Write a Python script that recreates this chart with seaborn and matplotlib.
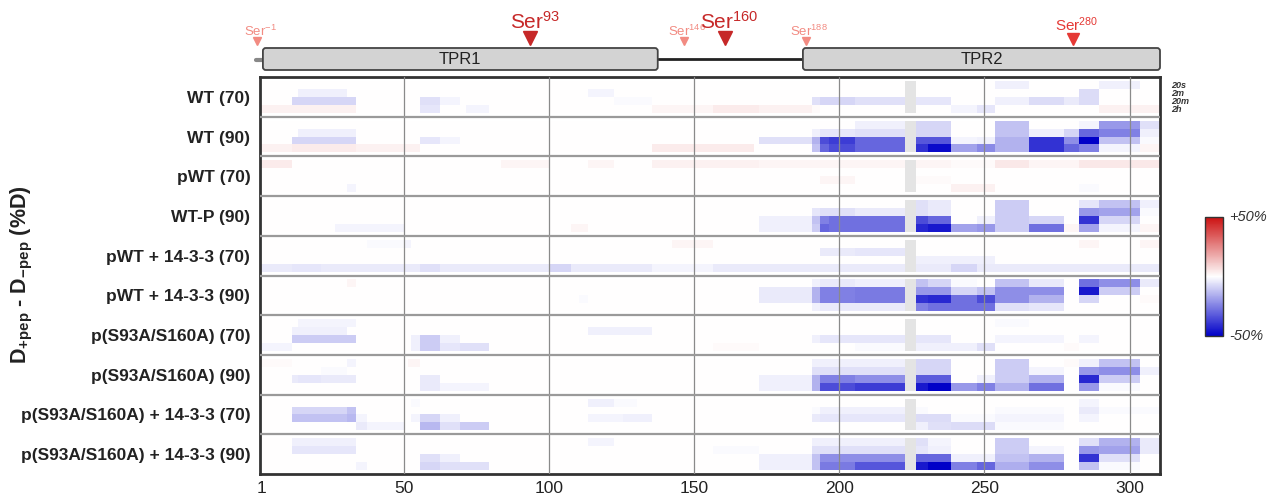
import numpy as np
import matplotlib.pyplot as plt
import seaborn as sns
from matplotlib.colors import LinearSegmentedColormap, ListedColormap
from matplotlib.patches import FancyBboxPatch

# conditions (rows) and labelling time points (sub rows)
conditions = ['WT (70)', 'WT (90)', 'pWT (70)', 'WT-P (90)', 'pWT + 14-3-3 (70)',
              'pWT + 14-3-3 (90)', 'p(S93A/S160A) (70)', 'p(S93A/S160A) (90)',
              'p(S93A/S160A) + 14-3-3 (70)', 'p(S93A/S160A) + 14-3-3 (90)']
time_points = ['20s', '2m', '20m', '2h']
n_res = 310
res_ticks = [1, 50, 100, 150, 200, 250, 300]

# domains and serines
domains = ['TPR1', 'TPR2']
dom_start = [1, 187]
dom_end = [137, 310]
ser_pos = [-1, 93, 146, 160, 188, 280]
ser_lbl = ['-1', '93', '146', '160', '188', '280']
ser_kind = ['small', 'big', 'small', 'big', 'small', 'mid']

# no-coverage region
gap = (222, 226)

# C-terminal peptide segments (common to all conditions)
seg_start = [172, 190, 193, 196, 205, 226, 230, 238, 247, 253, 265, 277, 282, 289, 303]
seg_end = [190, 193, 196, 205, 222, 230, 238, 247, 253, 265, 277, 282, 289, 303, 310]

# %D difference per time point (rows 20s, 2m, 20m, 2h) for each segment
wt70_c = [[0, 0, 0, 0, 0, 0, 0, 0, 0, -3, 0, 0, 0, -3, 0],
          [0, 0, 0, 0, 0, 0, 0, 0, 0, 0, 0, 0, -7, 0, 0],
          [0, -6, -8, -8, -6, -5, -5, 0, 0, -3, -7, -4, -7, 0, 0],
          [3, 1, 0, 0, 0, 0, 0, -2, -5, 0, 0, 0, 0, 3, 3]]
wt90_c = [[0, 0, 0, 0, -3, -8, -8, 0, 0, -12, 0, 0, -2, -20, -6],
          [0, -3, -5, -5, -6, -8, -8, 0, 0, -12, -3, -8, -30, -25, -3],
          [-6, -15, -35, -38, -30, -33, -33, -2, -3, -15, -40, -22, -50, -12, -1],
          [0, -12, -30, -35, -30, -40, -48, -18, -23, -15, -40, -30, -25, -2, 2]]
pwt70_c = [[2, 2, 2, 2, 2, 2, 2, 1, 1, 5, 2, 2, 5, 5, 5],
           [0, 0, 0, 0, 0, 0, 0, 0, 0, 0, 0, 0, 0, 0, 0],
           [0, 0, 2, 2, 0, 1, 1, 0, 0, 0, 0, 0, 0, 0, 0],
           [0, 0, 0, 0, 0, 0, 0, 3, 3, 0, 0, 0, -1, 0, 0]]
wtp90_c = [[0, 0, 0, 0, 0, -6, -4, 0, 0, -10, 0, 0, -5, -12, -3],
           [0, -5, -6, -6, -4, -6, -4, 0, 0, -10, 0, 0, -20, -18, -1],
           [-3, -12, -25, -28, -28, -35, -30, 0, -3, -10, -8, 0, -40, -8, 0],
           [-3, -10, -30, -28, -28, -42, -45, -18, -20, -10, -28, 2, -18, -2, 2]]
pwt1433_70_c = [[0, 0, 0, 0, 0, 0, 0, 0, 0, 0, 0, 0, 2, 0, 2],
                [0, 0, -4, -4, -5, 0, 0, 0, 0, 0, 0, 0, 0, 0, 0],
                [0, 0, 0, 0, 0, -3, -3, -3, -3, 0, 0, 0, 0, 0, 0],
                [-4, -4, -4, -4, -4, -4, -4, -8, -4, -4, -4, -4, -4, -4, -4]]
pwt1433_90_c = [[0, -3, -4, -4, -3, -12, -8, -1, 0, -12, -4, 0, -28, -22, -4],
                [-4, -15, -25, -25, -26, -20, -20, -8, -12, -22, -22, 0, -45, -10, 0],
                [-4, -15, -25, -25, -26, -40, -42, -28, -35, -22, -15, 0, -8, 0, 1],
                [0, -3, -4, -4, -4, -25, -28, -28, -28, -6, -5, 0, 0, 0, 0]]
dm70_c = [[0, 0, 0, 0, 0, 0, 0, 0, 0, -1, 0, 0, 0, 0, 0],
          [0, 0, 0, 0, 0, 0, 0, 0, 0, 0, 0, 0, 0, 0, 0],
          [0, -3, -5, -5, -5, -5, -5, 0, 0, -2, -2, 0, -2, 0, 0],
          [0, 0, 0, 0, -1, -3, -3, -3, -6, 0, 0, 1, 0, 0, 0]]
dm90_c = [[0, -3, -3, -3, -3, -8, -8, 0, 0, -10, 0, 1, -3, -12, 0],
          [0, -6, -6, -6, -6, -8, -8, 0, 0, -10, -2, 0, -20, -22, -3],
          [-3, -15, -25, -25, -22, -32, -32, 0, -3, -10, -15, 0, -42, -10, 0],
          [-3, -15, -35, -35, -38, -45, -50, -20, -25, -15, -28, 0, -20, -1, 0]]
dm1433_70_c = [[0, 0, 0, 0, 0, 0, 0, 0, 0, 0, 0, 0, -2, 0, 0],
               [0, -1, -3, -3, -3, -1, 0, 0, 0, -1, -1, 0, -4, -1, -1],
               [0, -4, -5, -5, -5, -7, -7, -1, -1, -2, -2, 0, -2, 0, 0],
               [0, 0, 0, 0, 0, -3, -6, -7, -7, -1, -1, 0, 0, 0, 0]]
dm1433_90_c = [[0, -3, -3, -3, -3, -6, -2, 0, 0, -10, 0, 0, -6, -15, -4],
               [0, -6, -6, -6, -6, -5, -3, 0, 0, -10, -2, 0, -20, -18, -4],
               [-3, -12, -22, -22, -22, -30, -30, -3, -3, -12, -15, 0, -40, -6, 0],
               [-3, -12, -26, -26, -33, -45, -50, -25, -30, -16, -22, 0, -12, -1, 0]]

# N-terminal / linker peptides: (time index, first, last, %D)
wt70_n = [(1, 13, 30, -3), (2, 11, 33, -8), (3, 0, 33, 3), (2, 55, 62, -6), (3, 55, 62, -5),
          (2, 62, 69, -2), (3, 71, 79, -2), (1, 113, 122, -2), (2, 122, 135, -1),
          (3, 135, 156, 2), (3, 156, 172, 4)]
wt90_n = [(1, 13, 33, -3), (2, 11, 33, -8), (3, 0, 55, 3), (3, 11, 33, 4), (2, 55, 62, -5),
          (2, 62, 69, -2), (3, 135, 170, 4)]
pwt70_n = [(0, 0, 11, 4), (3, 30, 33, -2), (0, 83, 100, 2), (0, 113, 122, 2), (0, 135, 172, 3)]
wtp90_n = [(3, 26, 50, -2), (3, 107, 113, 2)]
pwt1433_70_n = [(3, 0, 172, -4), (3, 11, 21, -5), (3, 55, 62, -6), (3, 100, 107, -8),
                (3, 135, 156, -2), (0, 37, 50, -1), (0, 50, 52, -2), (0, 142, 156, 2)]
pwt1433_90_n = [(0, 30, 33, 2), (2, 110, 113, -1)]
dm70_n = [(0, 13, 30, -2), (1, 11, 30, -3), (2, 11, 33, -10), (3, 0, 11, -2), (0, 30, 33, -2),
          (2, 52, 55, -3), (3, 52, 55, -3), (2, 55, 62, -10), (3, 55, 62, -10),
          (2, 62, 69, -3), (3, 62, 69, -5), (3, 69, 79, -6), (1, 113, 135, -3), (3, 156, 172, 1)]
dm90_n = [(0, 0, 11, 1), (0, 30, 33, -2), (1, 21, 30, -1), (2, 11, 33, -4), (2, 13, 21, -5),
          (0, 51, 55, 2), (2, 55, 62, -4), (3, 55, 62, -4), (3, 62, 79, -2)]
dm1433_70_n = [(1, 11, 33, -8), (2, 11, 33, -12), (1, 30, 33, -12), (2, 30, 33, -14),
               (2, 33, 37, -2), (3, 33, 37, -4), (3, 37, 50, -2), (0, 52, 55, -1),
               (2, 52, 55, -2), (2, 55, 62, -8), (3, 55, 62, -14), (2, 62, 69, -3),
               (3, 62, 69, -6), (3, 69, 79, -10), (0, 113, 122, -3), (0, 122, 130, -1),
               (2, 113, 135, -2), (2, 125, 135, -3)]
dm1433_90_n = [(0, 11, 33, -3), (1, 11, 33, -5), (3, 33, 37, -2), (2, 55, 62, -6),
               (3, 55, 62, -8), (2, 62, 69, -3), (3, 62, 79, -6), (0, 113, 122, -2),
               (1, 156, 172, -1)]

c_vals = [wt70_c, wt90_c, pwt70_c, wtp90_c, pwt1433_70_c, pwt1433_90_c,
          dm70_c, dm90_c, dm1433_70_c, dm1433_90_c]
n_vals = [wt70_n, wt90_n, pwt70_n, wtp90_n, pwt1433_70_n, pwt1433_90_n,
          dm70_n, dm90_n, dm1433_70_n, dm1433_90_n]


def build_matrix():
    # 10 units per condition: pad, 2 per time point, pad
    mat = np.full((10 * len(conditions), n_res), np.nan)
    gap_mat = np.full_like(mat, np.nan)
    for i in range(len(conditions)):
        for t in range(4):
            r0 = i * 10 + 1 + 2 * t
            mat[r0:r0 + 2, :] = 0
            for s0, s1, v in zip(seg_start, seg_end, c_vals[i][t]):
                mat[r0:r0 + 2, s0:s1] = v
        for t, x0, x1, v in n_vals[i]:
            r0 = i * 10 + 1 + 2 * t
            mat[r0:r0 + 2, x0:x1] = v
        rows = slice(i * 10 + 1, i * 10 + 9)
        mat[rows, gap[0]:gap[1]] = np.nan
        gap_mat[rows, gap[0]:gap[1]] = 1
    return mat, gap_mat


sns.set_style('white')
plt.rcParams['font.family'] = ['Liberation Sans', 'DejaVu Sans']
plt.rcParams['mathtext.fontset'] = 'custom'
plt.rcParams['mathtext.rm'] = 'Liberation Sans'
plt.rcParams['mathtext.bf'] = 'Liberation Sans:bold'
plt.rcParams['mathtext.default'] = 'regular'

W, H = 1279, 501
fig = plt.figure(figsize=(W / 100, H / 100), dpi=100)
left, right, top, bottom = 260, 1160, 77, 474
ax = fig.add_axes([left / W, 1 - bottom / H, (right - left) / W, (bottom - top) / H])
cax = fig.add_axes([1205 / W, 1 - 336 / H, 18 / W, 119 / H])

mat, gap_mat = build_matrix()
cmap = LinearSegmentedColormap.from_list('hdx', ['#0000c8', '#ffffff', '#cc1111'])
sns.heatmap(mat, ax=ax, cmap=cmap, vmin=-50, vmax=50, cbar_ax=cax,
            xticklabels=False, yticklabels=False)
sns.heatmap(gap_mat, ax=ax, cmap=ListedColormap(['#e4e4e4']), cbar=False,
            xticklabels=False, yticklabels=False)

# grid lines over the cells
for r in res_ticks[1:]:
    ax.axvline(r - 0.5, color='#8a8a8a', lw=0.9, zorder=3)
for i in range(1, len(conditions)):
    ax.axhline(i * 10, color='#9a9a9a', lw=1.6, zorder=3)

ax.set_xticks([r - 0.5 for r in res_ticks])
ax.set_xticklabels([str(r) for r in res_ticks], fontsize=12.5, color='#222222', rotation=0)
ax.set_yticks([i * 10 + 5 for i in range(len(conditions))])
ax.set_yticklabels(conditions, fontsize=12.5, fontweight='bold', color='#222222', rotation=0)
ax.tick_params(axis='both', length=0)
ax.tick_params(axis='y', pad=7)
ax.tick_params(axis='x', pad=5)
for sp in ax.spines.values():
    sp.set_visible(True)
    sp.set_color('#333333')
    sp.set_linewidth(2)

fig.text(22 / W, 1 - 275 / H, 'D$_{+pep}$ - D$_{-pep}$ (%D)', fontweight='bold',
         rotation=90, ha='center', va='center', fontsize=15.5, color='#222222')

# time point legend
for k, tp in enumerate(time_points):
    fig.text(1171 / W, 1 - (86 + k * 8) / H, tp, fontsize=6.5, style='italic',
             fontweight='bold', color='#333333', va='center')

# colorbar
cax.set_yticks([])
cbar = ax.collections[0].colorbar
cbar.outline.set_edgecolor('#333333')
cbar.outline.set_linewidth(1)
cax.text(1.35, 1.0, '+50%', transform=cax.transAxes, style='italic', fontsize=10.5,
         color='#333333', va='center')
cax.text(1.35, 0.0, '-50%', transform=cax.transAxes, style='italic', fontsize=10.5,
         color='#333333', va='center')

# domain map above the heatmap
ax_top = fig.add_axes([left / W, 1 - 76 / H, (right - left) / W, 76 / H])
ax_top.set_xlim(0, n_res)
ax_top.set_ylim(76, 0)
ax_top.axis('off')
ax_top.plot([dom_end[0], dom_start[1]], [59, 59], color='#222222', lw=2, zorder=1)
ax_top.plot([-1.5, 1], [59.5, 59.5], color='#888888', lw=3, zorder=1, clip_on=False)
for name, s, e in zip(domains, dom_start, dom_end):
    box = FancyBboxPatch((s, 48), e - s, 22, boxstyle='round,pad=0,rounding_size=1',
                         mutation_aspect=2.9, facecolor='#d3d3d3', edgecolor='#444444',
                         lw=1.3, zorder=2, clip_on=False)
    ax_top.add_patch(box)
    ax_top.text((s + e) / 2, 59.5, name, ha='center', va='center', fontsize=12,
                color='#222222', zorder=3)

ser_style = {'big': ('#c62828', 15, 10, 29, 38),
             'mid': ('#e53935', 11, 8, 31, 39),
             'small': ('#f28b82', 9.5, 5.5, 36, 41)}
for pos, lbl, kind in zip(ser_pos, ser_lbl, ser_kind):
    col, fs, ms, ty, my = ser_style[kind]
    ax_top.plot(pos, my, marker='v', ms=ms, color=col, clip_on=False, zorder=4)
    ax_top.text(pos + fs * 0.12, ty, 'Ser$^{%s}$' % lbl, ha='center', va='baseline',
                fontsize=fs, color=col, clip_on=False)

plt.savefig('out.png', dpi=100)
